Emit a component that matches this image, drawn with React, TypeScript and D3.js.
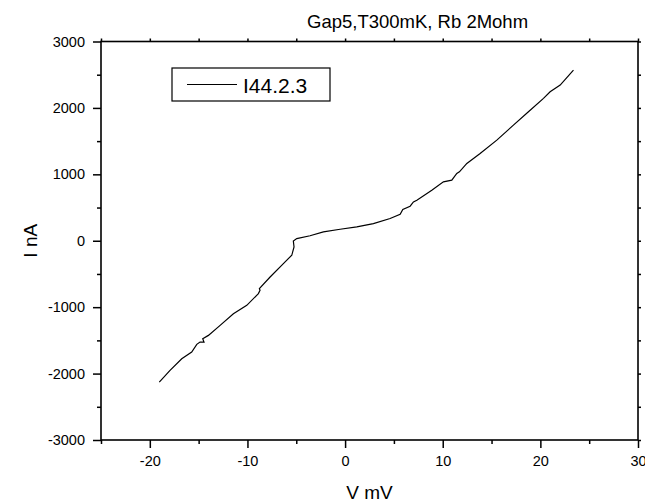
import { useEffect, useRef } from 'react';
import * as d3 from 'd3';

// sweep order (V in mV, I in nA)
const voltage = [
  -19.03, -17.93, -16.73, -15.71, -15.19, -14.86, -14.45, -14.58, -14.0, -12.8,
  -11.44, -10.07, -8.88, -8.71, -8.78, -7.68, -6.32, -5.46, -5.23, -5.3,
  -4.95, -3.59, -2.22, -0.51, 1.2, 2.9, 4.61, 5.64, 5.91, 6.66,
  7.0, 7.35, 8.88, 10.07, 10.93, 11.44, 11.71, 12.47, 13.83, 15.54,
  17.24, 18.78, 20.32, 21.0, 22.03, 23.39,
];
const current = [
  -2129, -1952, -1776, -1676, -1560, -1526, -1526, -1474, -1425, -1274,
  -1098, -972, -796, -746, -721, -546, -344, -219, -93, -3,
  33, 75, 133, 173, 208, 259, 335, 400, 470, 520,
  585, 611, 761, 887, 912, 1013, 1037, 1164, 1315, 1515,
  1741, 1942, 2144, 2243, 2344, 2570,
];

const xMajor = [-20, -10, 0, 10, 20, 30];
const xMinor = [-25, -15, -5, 5, 15, 25];
const yMajor = [-3000, -2000, -1000, 0, 1000, 2000, 3000];
const yMinor = [-2500, -1500, -500, 500, 1500, 2500];

const chartTitle = 'Gap5,T300mK, Rb 2Mohm';
const xTitle = 'V mV';
const yTitle = 'I nA';
const seriesName = 'I44.2.3';

const font = '"Liberation Sans", Arial, sans-serif';

export default function App() {
  const svgRef = useRef<SVGSVGElement>(null);

  useEffect(() => {
    if (!svgRef.current) return;
    const svg = d3.select(svgRef.current);
    svg.selectAll('*').remove();

    const left = 101;
    const right = 638;
    const top = 41.5;
    const bottom = 440;

    const x = d3.scaleLinear().domain([-25, 30]).range([left, right]);
    const y = d3.scaleLinear().domain([-3000, 3000]).range([bottom, top]);
    const noLabel = () => '';
    const plain = (d: d3.NumberValue) => String(d);

    // bottom axis, major + minor in their own groups
    svg.append('g').attr('transform', `translate(0,${bottom})`)
      .call(d3.axisBottom(x).tickValues(xMajor).tickFormat(plain).tickSize(8).tickPadding(8).tickSizeOuter(0));
    svg.append('g').attr('transform', `translate(0,${bottom})`)
      .call(d3.axisBottom(x).tickValues(xMinor).tickSize(4).tickFormat(noLabel).tickSizeOuter(0));

    // left axis
    svg.append('g').attr('transform', `translate(${left},0)`)
      .call(d3.axisLeft(y).tickValues(yMajor).tickFormat(plain).tickSize(8).tickPadding(8).tickSizeOuter(0));
    svg.append('g').attr('transform', `translate(${left},0)`)
      .call(d3.axisLeft(y).tickValues(yMinor).tickSize(4).tickFormat(noLabel).tickSizeOuter(0));

    // top and right: small ticks, no labels
    const xAll = [...xMajor, ...xMinor];
    const yAll = [...yMajor, ...yMinor];
    svg.append('g').attr('transform', `translate(0,${top})`)
      .call(d3.axisTop(x).tickValues(xAll).tickSize(3).tickFormat(noLabel).tickSizeOuter(0));
    svg.append('g').attr('transform', `translate(${right},0)`)
      .call(d3.axisRight(y).tickValues(yAll).tickSize(3).tickFormat(noLabel).tickSizeOuter(0));

    svg.selectAll('.domain').remove();
    svg.selectAll('.tick line').attr('stroke', '#000').attr('stroke-width', 1.5);
    svg.selectAll('.tick text')
      .attr('font-family', font)
      .attr('font-size', 14.5)
      .attr('fill', '#000');

    // frame
    svg.append('rect')
      .attr('x', left)
      .attr('y', top)
      .attr('width', right - left)
      .attr('height', bottom - top)
      .attr('fill', 'none')
      .attr('stroke', '#000')
      .attr('stroke-width', 1.6);

    // curve
    const pts = voltage.map((v, i) => [v, current[i]] as [number, number]);
    const line = d3.line<[number, number]>()
      .x((d) => x(d[0]))
      .y((d) => y(d[1]));
    svg.append('path')
      .attr('d', line(pts))
      .attr('fill', 'none')
      .attr('stroke', '#000')
      .attr('stroke-width', 1.2);

    // legend
    svg.append('rect')
      .attr('x', 172)
      .attr('y', 68)
      .attr('width', 158)
      .attr('height', 33)
      .attr('fill', '#fff')
      .attr('stroke', '#000')
      .attr('stroke-width', 1.2);
    svg.append('line')
      .attr('x1', 187)
      .attr('x2', 237)
      .attr('y1', 84.5)
      .attr('y2', 84.5)
      .attr('stroke', '#000')
      .attr('stroke-width', 1.2);
    svg.append('text')
      .attr('x', 243)
      .attr('y', 92.5)
      .attr('font-family', font)
      .attr('font-size', 21)
      .text(seriesName);

    // titles
    svg.append('text')
      .attr('x', 307)
      .attr('y', 28)
      .attr('font-family', font)
      .attr('font-size', 18.5)
      .text(chartTitle);
    svg.append('text')
      .attr('x', (left + right) / 2)
      .attr('y', 499)
      .attr('text-anchor', 'middle')
      .attr('font-family', font)
      .attr('font-size', 19)
      .text(xTitle);
    svg.append('text')
      .attr('transform', `translate(37,${(top + bottom) / 2}) rotate(-90)`)
      .attr('text-anchor', 'middle')
      .attr('font-family', font)
      .attr('font-size', 19)
      .text(yTitle);
  }, []);

  return (
    <svg
      ref={svgRef}
      width={645}
      height={502}
      style={{ position: 'absolute', left: 0, top: 0, background: '#fff' }}
    />
  );
}
